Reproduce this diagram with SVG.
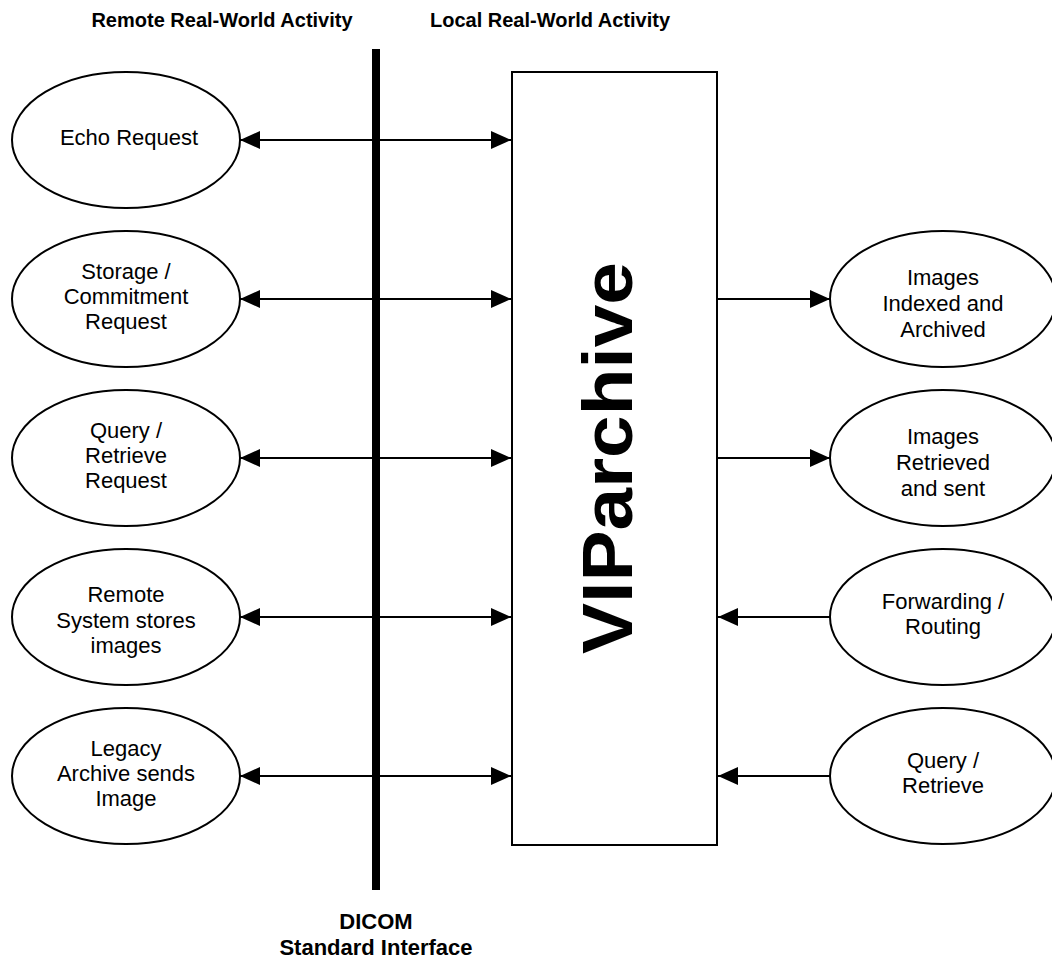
<svg xmlns="http://www.w3.org/2000/svg" width="1052" height="968" viewBox="0 0 1052 968">
<style>
text{font-family:"Liberation Sans",Arial,sans-serif;fill:#000}
.lbl{font-size:22px;text-anchor:middle}
.hdr{font-size:20px;font-weight:bold;text-anchor:middle}
.dic{font-size:22px;font-weight:bold;text-anchor:middle}
.node ellipse,.node rect{fill:#fff;stroke:#000;stroke-width:2}
.conn line{stroke:#000;stroke-width:2;fill:none}
</style>
<defs>
<marker id="ah" markerUnits="userSpaceOnUse" markerWidth="20" markerHeight="18" refX="20" refY="9" orient="auto-start-reverse" viewBox="0 0 20 18">
<path d="M0,0 L20,9 L0,18 z" fill="#000"/>
</marker>
</defs>
<rect width="1052" height="968" fill="#fff"/>

<g id="headers">
<text class="hdr" x="222" y="27">Remote Real-World Activity</text>
<text class="hdr" x="550" y="27">Local Real-World Activity</text>
</g>

<g id="dicom-interface">
<rect x="372" y="49" width="8" height="841" fill="#000"/>
<text class="dic" x="376" y="929">DICOM</text>
<text class="dic" x="376" y="955">Standard Interface</text>
</g>

<g id="connectors" class="conn">
<line x1="240" y1="140" x2="511" y2="140" marker-start="url(#ah)" marker-end="url(#ah)"/>
<line x1="240" y1="299" x2="511" y2="299" marker-start="url(#ah)" marker-end="url(#ah)"/>
<line x1="240" y1="458" x2="511" y2="458" marker-start="url(#ah)" marker-end="url(#ah)"/>
<line x1="240" y1="617" x2="511" y2="617" marker-start="url(#ah)" marker-end="url(#ah)"/>
<line x1="240" y1="776" x2="511" y2="776" marker-start="url(#ah)" marker-end="url(#ah)"/>
<line x1="717" y1="299" x2="830" y2="299" marker-end="url(#ah)"/>
<line x1="717" y1="458" x2="830" y2="458" marker-end="url(#ah)"/>
<line x1="830" y1="617" x2="718" y2="617" marker-end="url(#ah)"/>
<line x1="830" y1="776" x2="718" y2="776" marker-end="url(#ah)"/>
</g>

<g id="viparchive" class="node">
<rect x="512" y="72" width="205" height="773"/>
<text x="632" y="458" transform="rotate(-90 632 458)" textLength="392" lengthAdjust="spacingAndGlyphs" style="font-size:70px;font-weight:bold;text-anchor:middle">VIParchive</text>
</g>

<g id="echo-request" class="node">
<ellipse cx="126" cy="140" rx="114" ry="68"/>
<text class="lbl" x="129" y="145">Echo Request</text>
</g>
<g id="storage-commitment" class="node">
<ellipse cx="126" cy="299" rx="114" ry="68"/>
<text class="lbl" x="126" y="279">Storage /</text>
<text class="lbl" x="126" y="304">Commitment</text>
<text class="lbl" x="126" y="329">Request</text>
</g>
<g id="query-retrieve-request" class="node">
<ellipse cx="126" cy="458" rx="114" ry="68"/>
<text class="lbl" x="126" y="438">Query /</text>
<text class="lbl" x="126" y="463">Retrieve</text>
<text class="lbl" x="126" y="488">Request</text>
</g>
<g id="remote-system-stores" class="node">
<ellipse cx="126" cy="617" rx="114" ry="68"/>
<text class="lbl" x="126" y="602">Remote</text>
<text class="lbl" x="126" y="628">System stores</text>
<text class="lbl" x="126" y="653">images</text>
</g>
<g id="legacy-archive" class="node">
<ellipse cx="126" cy="776" rx="114" ry="68"/>
<text class="lbl" x="126" y="756">Legacy</text>
<text class="lbl" x="126" y="781">Archive sends</text>
<text class="lbl" x="126" y="806">Image</text>
</g>

<g id="images-indexed" class="node">
<ellipse cx="943" cy="299" rx="113" ry="68"/>
<text class="lbl" x="943" y="285">Images</text>
<text class="lbl" x="943" y="311">Indexed and</text>
<text class="lbl" x="943" y="337">Archived</text>
</g>
<g id="images-retrieved" class="node">
<ellipse cx="943" cy="458" rx="113" ry="68"/>
<text class="lbl" x="943" y="444">Images</text>
<text class="lbl" x="943" y="470">Retrieved</text>
<text class="lbl" x="943" y="496">and sent</text>
</g>
<g id="forwarding-routing" class="node">
<ellipse cx="943" cy="617" rx="113" ry="68"/>
<text class="lbl" x="943" y="609">Forwarding /</text>
<text class="lbl" x="943" y="634">Routing</text>
</g>
<g id="query-retrieve" class="node">
<ellipse cx="943" cy="776" rx="113" ry="68"/>
<text class="lbl" x="943" y="768">Query /</text>
<text class="lbl" x="943" y="793">Retrieve</text>
</g>
</svg>
